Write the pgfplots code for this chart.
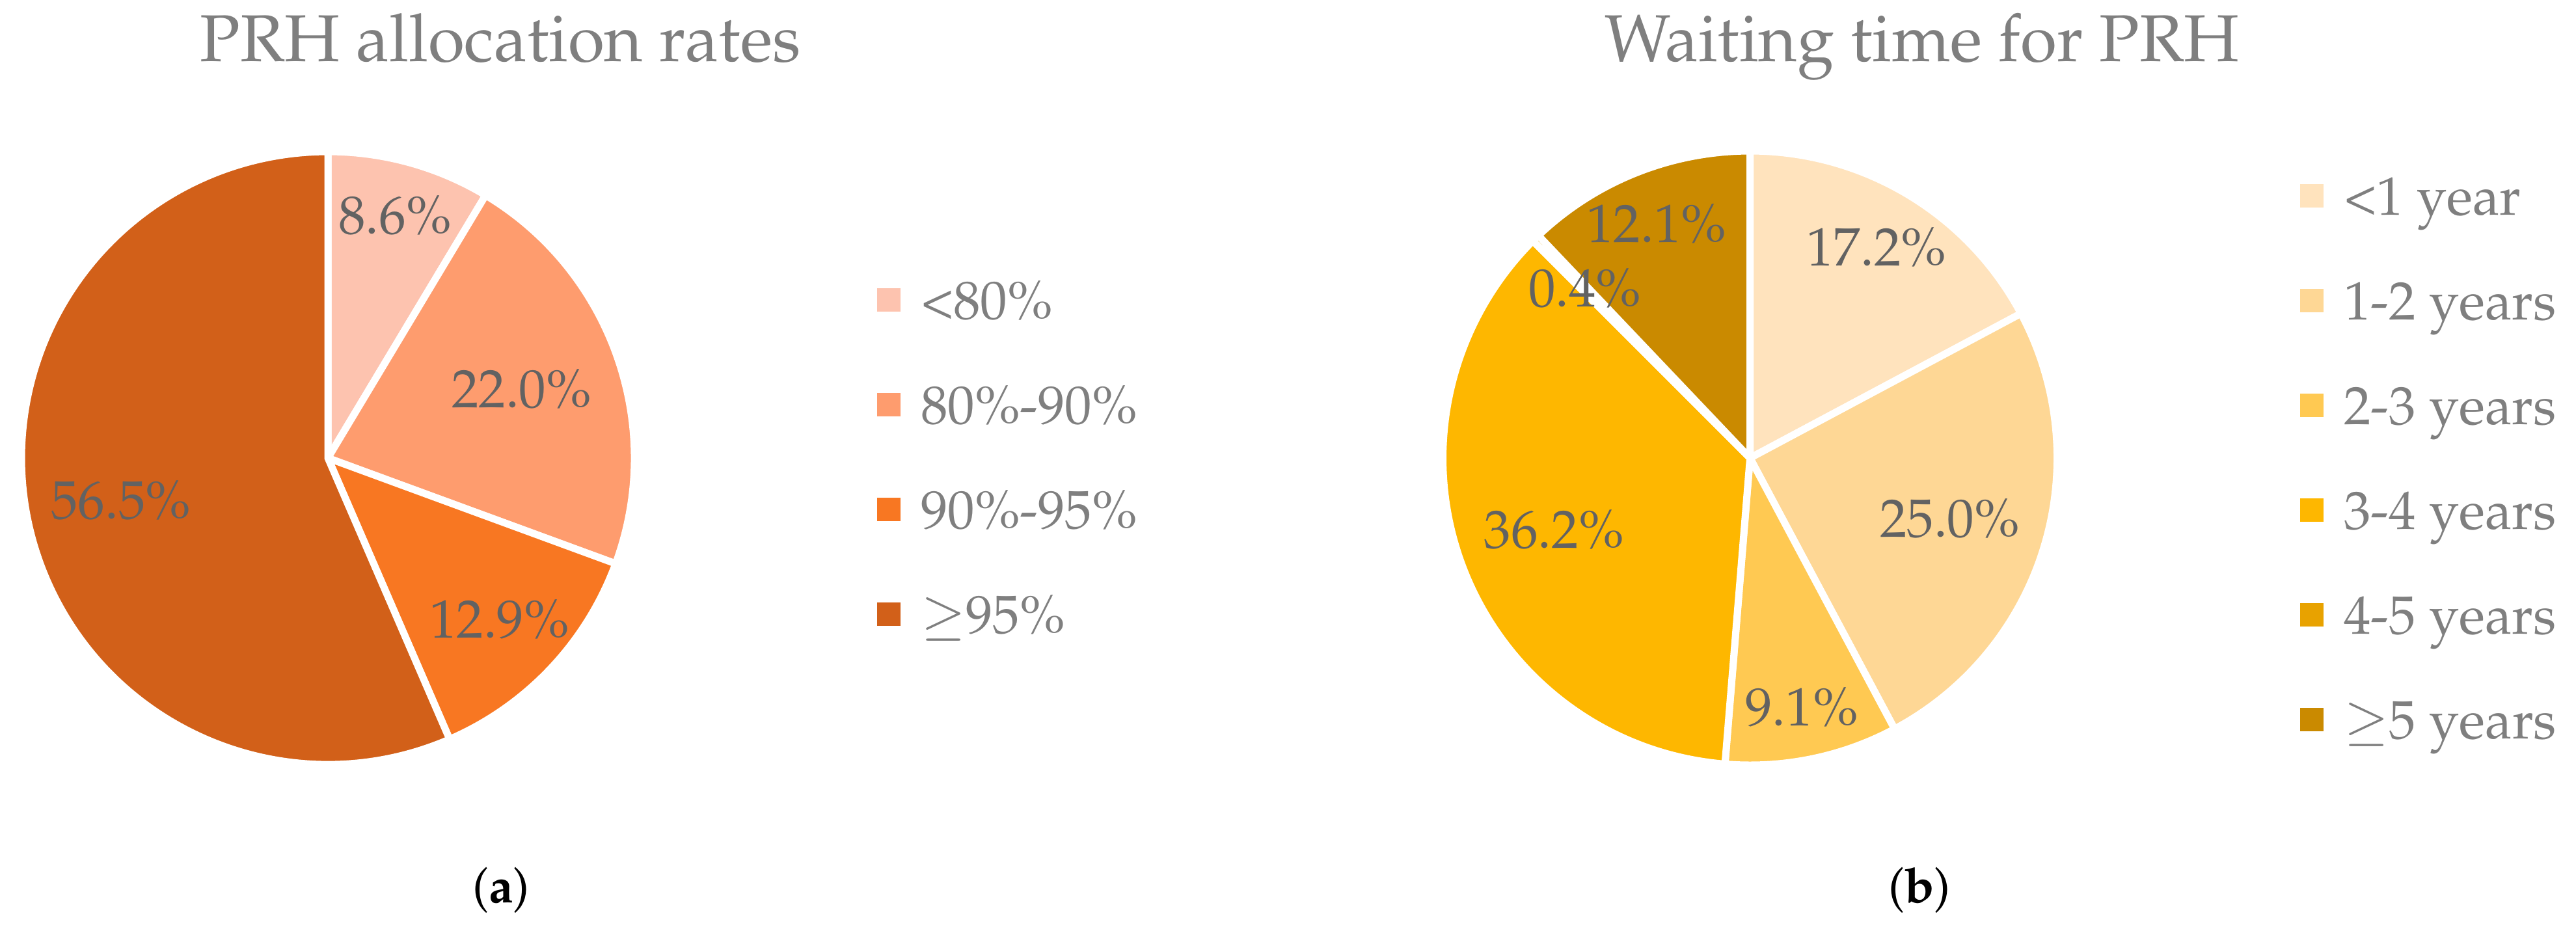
\documentclass[border=0pt]{standalone}
\usepackage[T1]{fontenc}
\usepackage{mathpazo}
\usepackage{pgfplots}
\usepackage{pgfplotstable}
\pgfplotsset{compat=1.18}

\definecolor{colA0}{HTML}{FDC3AF}
\definecolor{colA1}{HTML}{FE9C6E}
\definecolor{colA2}{HTML}{F87722}
\definecolor{colA3}{HTML}{D26019}
\definecolor{colB0}{HTML}{FFE3BD}
\definecolor{colB1}{HTML}{FED795}
\definecolor{colB2}{HTML}{FFC952}
\definecolor{colB3}{HTML}{FEB700}
\definecolor{colB4}{HTML}{E8A200}
\definecolor{colB5}{HTML}{CA8A00}
\definecolor{ttlgray}{HTML}{7F7F7F}
\definecolor{lblgray}{HTML}{626262}

% share (%) and label distance as a fraction of the radius
\pgfplotstableread{
v r
8.6 0.82
22.0 0.67
12.9 0.77
56.5 0.69
}\tabA
\pgfplotstableread{
v r
17.2 0.80
25.0 0.68
9.1 0.83
36.2 0.68
0.4 0.77
12.1 0.82
}\tabB

\pgfplotsset{
  pieaxis/.style={
    hide axis, x=1pt, y=1pt,
    xmin=0, xmax=395.9, ymin=0, ymax=143,
    at={(0,0)}, anchor=south west, clip=false,
    legend cell align=left,
    legend style={draw=none, fill=none, inner sep=0pt, outer sep=0pt,
      row sep=10.3pt, column sep=3.1pt, text=ttlgray,
      font=\fontsize{8.3}{10}\selectfont,
      nodes={inner sep=0pt, text height=5.8pt, text depth=0pt}},
  },
  sqleg/.style={draw=none, legend image code/.code={\fill (0pt,-1.8pt) rectangle (3.6pt,1.8pt);}},
}
\tikzset{lbl/.style={text=lblgray, font=\fontsize{8.3}{10}\selectfont, inner sep=0pt}}

% #1 table, #2 colour prefix, #3 cx, #4 cy, #5 radius
\newcommand\drawpie[5]{%
  \pgfplotstablegetrowsof{#1}%
  \pgfmathtruncatemacro\nrows{\pgfplotsretval-1}%
  % slices
  \def\acc{0}%
  \pgfplotsforeachungrouped \i in {0,...,\nrows}{%
    \pgfplotstablegetelem{\i}{v}\of#1\let\vv\pgfplotsretval
    \pgfmathsetmacro\sa{90-3.6*\acc}%
    \pgfmathsetmacro\ea{90-3.6*(\acc+\vv)}%
    \pgfmathsetmacro\acc{\acc+\vv}%
    \pgfmathsetmacro\sx{#3+#5*cos(\sa)}%
    \pgfmathsetmacro\sy{#4+#5*sin(\sa)}%
    \edef\cmd{%
      \noexpand\filldraw[fill=#2\i, draw=white, line width=1.1pt, line join=miter]
        (axis cs:#3,#4) -- (axis cs:\sx,\sy)
        arc[start angle=\sa, end angle=\ea, radius=#5pt] -- cycle;
    }%
    \cmd
  }%
  % data labels on top
  \def\acc{0}%
  \pgfplotsforeachungrouped \i in {0,...,\nrows}{%
    \pgfplotstablegetelem{\i}{v}\of#1\let\vv\pgfplotsretval
    \pgfplotstablegetelem{\i}{r}\of#1\let\rr\pgfplotsretval
    \pgfmathsetmacro\ma{90-3.6*(\acc+\vv/2)}%
    \pgfmathsetmacro\acc{\acc+\vv}%
    \pgfmathsetmacro\lx{#3+\rr*#5*cos(\ma)}%
    \pgfmathsetmacro\ly{#4+\rr*#5*sin(\ma)}%
    \edef\cmd{\noexpand\node[lbl] at (axis cs:\lx,\ly) {\vv\noexpand\%};}%
    \cmd
  }%
}

\begin{document}
\begin{tikzpicture}
\useasboundingbox (0,0) rectangle (395.9pt,143pt);

% (a) allocation rates
\begin{axis}[pieaxis,
  legend style={at={(0.3405,0.6979)}, anchor=north west}]
\drawpie{\tabA}{colA}{50.4}{72.6}{47.1}
\node[text=ttlgray, font=\fontsize{10.2}{12}\selectfont, anchor=base]
  at (axis cs:76.9,133.6) {PRH allocation rates};
\node[font=\fontsize{7.5}{9}\selectfont, anchor=base] at (axis cs:77.0,4.3) {(\textbf{a})};
\addlegendimage{sqleg, fill=colA0}\addlegendentry{<80\%}
\addlegendimage{sqleg, fill=colA1}\addlegendentry{80\%-90\%}
\addlegendimage{sqleg, fill=colA2}\addlegendentry{90\%-95\%}
\addlegendimage{sqleg, fill=colA3}\addlegendentry{$\geq$95\%}
\end{axis}

% (b) waiting time
\begin{axis}[pieaxis,
  legend style={at={(0.8929,0.8098)}, anchor=north west}]
\drawpie{\tabB}{colB}{268.95}{72.6}{47.2}
\node[text=ttlgray, font=\fontsize{10.2}{12}\selectfont, anchor=base]
  at (axis cs:295.4,133.6) {Waiting time for PRH};
\node[font=\fontsize{7.5}{9}\selectfont, anchor=base] at (axis cs:295.0,4.3) {(\textbf{b})};
\addlegendimage{sqleg, fill=colB0}\addlegendentry{<1 year}
\addlegendimage{sqleg, fill=colB1}\addlegendentry{1-2 years}
\addlegendimage{sqleg, fill=colB2}\addlegendentry{2-3 years}
\addlegendimage{sqleg, fill=colB3}\addlegendentry{3-4 years}
\addlegendimage{sqleg, fill=colB4}\addlegendentry{4-5 years}
\addlegendimage{sqleg, fill=colB5}\addlegendentry{$\geq$5 years}
\end{axis}
\end{tikzpicture}
\end{document}
